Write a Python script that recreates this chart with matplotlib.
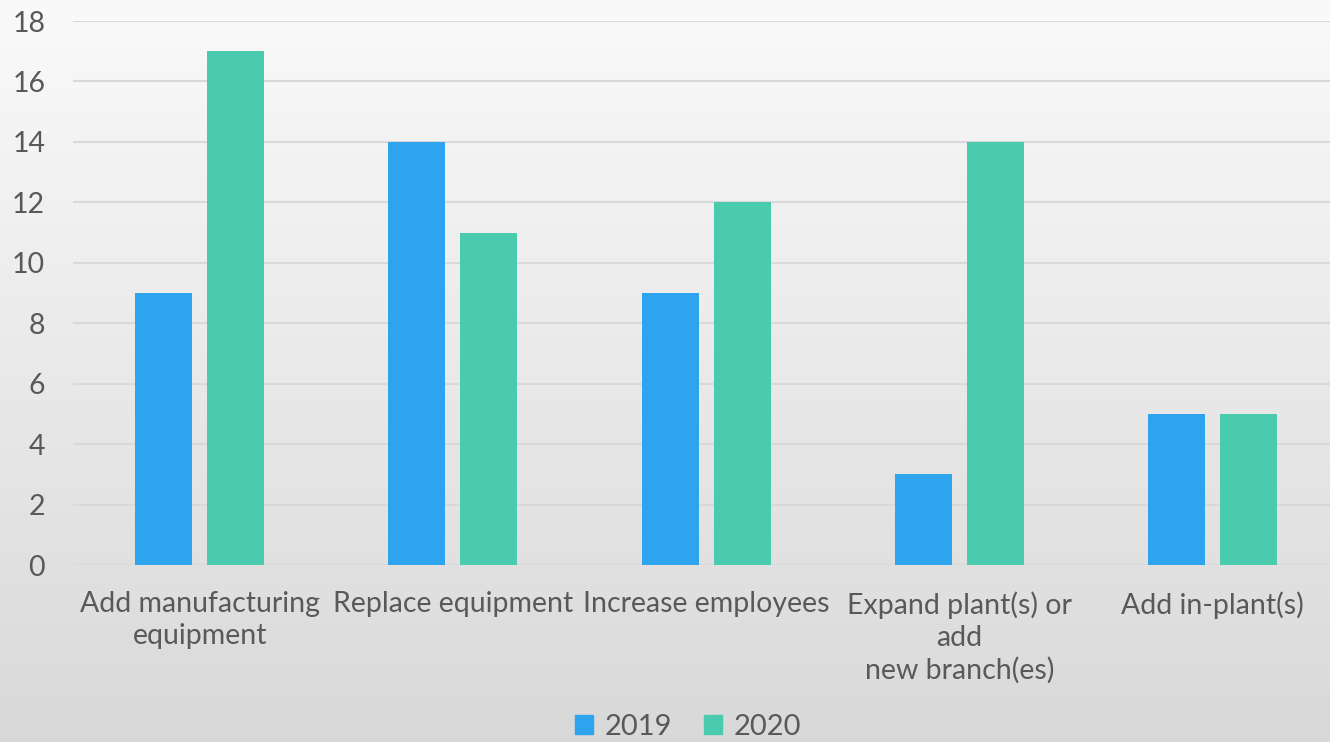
import numpy as np
import matplotlib.pyplot as plt
from matplotlib.patches import Patch

categories = ['Add manufacturing\nequipment', 'Replace equipment', 'Increase employees',
              'Expand plant(s) or\nadd\nnew branch(es)', 'Add in-plant(s)']
vals_2019 = [9, 14, 9, 3, 5]
vals_2020 = [17, 11, 12, 14, 5]
series_names = ['2019', '2020']
yticks = [0, 2, 4, 6, 8, 10, 12, 14, 16, 18]

c2019 = '#2ea3ee'
c2020 = '#4bcbad'
txt = '#595959'

plt.rcParams['font.family'] = ['Lato', 'DejaVu Sans']

fig = plt.figure(figsize=(13.3, 7.42), dpi=100)

# background gradient
bg = fig.add_axes([0, 0, 1, 1], zorder=-10)
grad = np.linspace(0, 1, 256).reshape(-1, 1)
top = np.array([0.98, 0.98, 0.98])
bot = np.array([0.85, 0.85, 0.85])
img = top + (bot - top) * grad[:, :, None]
bg.imshow(img, aspect='auto', extent=[0, 1, 0, 1])
bg.axis('off')

W, H = 1330, 742
left, right = 73, 1330
ax = fig.add_axes([left / W, (H - 565) / H, (right - left) / W, (565 - 21) / H])
ax.patch.set_alpha(0)

step = 253.3
x = np.arange(len(categories))
off = 36 / step
bw = 57 / step
ax.bar(x - off, vals_2019, bw, color=c2019, zorder=3)
ax.bar(x + off, vals_2020, bw, color=c2020, zorder=3)

ax.set_xlim(-0.5, -0.5 + (right - left) / step)
ax.set_ylim(0, 18)
ax.set_yticks(yticks)
ax.grid(axis='y', color='#d9d9d9', linewidth=1.5, zorder=0)
for s in ax.spines.values():
    s.set_visible(False)
ax.tick_params(axis='both', length=0, labelsize=20.5, labelcolor=txt)
ax.tick_params(axis='y', pad=20)
ax.tick_params(axis='x', pad=19)
ax.set_xticks(x)
ax.set_xticklabels(categories, linespacing=1.28)

handles = [Patch(color=c2019, label=series_names[0]), Patch(color=c2020, label=series_names[1])]
fig.legend(handles=handles, loc='center', bbox_to_anchor=(688 / W, 1 - 727 / H), ncol=2,
           frameon=False, fontsize=21, labelcolor=txt, handlelength=0.6, handleheight=0.6,
           handletextpad=0.4, columnspacing=1.1)

fig.savefig('out.png', dpi=100)
